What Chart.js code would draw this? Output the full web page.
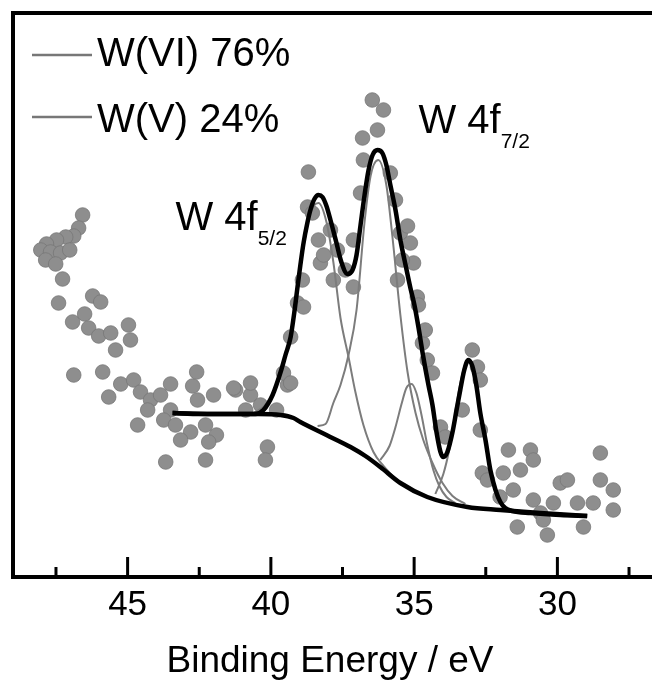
<!DOCTYPE html>
<html>
<head>
<meta charset="utf-8">
<script src="https://cdn.jsdelivr.net/npm/chart.js@4.4.0/dist/chart.umd.min.js"></script>
<style>
  html, body { margin: 0; padding: 0; background: #fff; overflow: hidden; }
  #wrap { position: absolute; left: 0; top: 0; width: 700px; height: 691px; }
</style>
</head>
<body>
<div id="wrap"><canvas id="xps" width="700" height="691"></canvas></div>
<script>
// W 4f XPS spectrum: [binding energy (eV), intensity (a.u.)]
const measured = [
  [46.57, 36.2], [46.71, 34.9], [46.88, 34.1], [47.16, 34.0], [47.48, 33.7], [47.83, 33.3],
  [48.03, 32.7], [47.69, 32.5], [47.34, 32.4], [47.02, 32.7], [47.86, 31.7], [47.51, 31.3],
  [47.27, 29.8], [47.41, 27.4], [46.22, 28.1], [45.94, 27.5], [46.92, 25.5], [46.5, 26.3],
  [46.36, 24.9], [46.01, 24.1], [45.59, 24.4], [44.97, 25.2], [44.9, 23.7], [45.42, 22.7],
  [46.88, 20.2], [45.87, 20.5], [45.66, 18.0], [45.24, 19.3], [44.79, 19.7], [44.55, 18.5],
  [44.2, 17.7], [43.85, 18.2], [44.3, 16.7], [43.5, 19.3], [43.5, 16.7], [43.74, 15.7],
  [43.33, 15.2], [42.8, 14.5], [43.15, 13.7], [44.65, 15.2], [43.67, 11.5], [42.73, 19.1],
  [42.59, 20.5], [42.56, 17.7], [42.0, 18.2], [42.28, 15.2], [41.9, 14.2], [42.17, 13.5],
  [42.28, 11.7], [41.23, 18.7], [40.71, 18.2], [40.88, 16.7], [40.36, 17.2], [40.12, 13.0],
  [40.19, 11.7], [39.8, 16.7], [39.42, 19.2], [40.71, 19.4], [41.3, 18.9], [39.56, 20.4],
  [39.31, 19.4], [39.31, 24.0], [39.07, 27.4], [38.9, 29.7], [38.72, 37.0], [38.69, 40.5],
  [38.55, 36.4], [38.34, 33.7], [38.27, 31.4], [38.16, 32.2], [37.82, 29.7], [37.68, 32.7],
  [37.12, 33.7], [37.12, 29.0], [36.87, 38.4], [36.77, 41.7], [36.8, 43.9], [36.28, 44.7],
  [36.46, 47.7], [36.07, 46.7], [35.83, 40.4], [35.48, 34.4], [35.23, 35.1], [35.13, 33.4],
  [35.02, 31.4], [35.58, 29.7], [34.89, 28.0], [34.85, 27.2], [34.71, 23.4], [34.54, 21.7],
  [34.36, 20.4], [34.08, 15.0], [33.91, 14.0], [33.32, 16.7], [32.97, 22.7], [32.79, 21.0],
  [32.69, 19.7], [32.69, 14.7], [32.62, 10.4], [32.44, 9.7], [32.0, 8.0], [31.89, 10.4],
  [31.71, 12.7], [31.29, 10.7], [30.94, 12.7], [30.84, 11.7], [31.54, 8.7], [31.4, 5.0],
  [30.84, 7.7], [30.59, 6.4], [30.49, 5.7], [30.35, 4.2], [30.14, 7.4], [29.9, 9.4],
  [29.65, 9.7], [29.3, 7.4], [29.09, 5.0], [28.75, 7.4], [28.5, 12.4], [28.5, 9.7],
  [28.05, 8.7], [28.05, 6.7], [38.86, 27.0], [37.4, 30.7], [37.92, 34.7], [35.65, 37.7],
  [35.41, 31.7], [34.61, 24.7]
];

const envelope = [
  [43.43, 16.4], [42.45, 16.3], [41.41, 16.3], [40.54, 16.3], [40.26, 16.7], [39.94, 18.2],
  [39.66, 20.5], [39.49, 22.2], [39.31, 24.0], [39.18, 26.5], [39.07, 29.0], [38.97, 31.2],
  [38.86, 33.4], [38.72, 35.5], [38.62, 36.7], [38.48, 37.8], [38.34, 38.2], [38.2, 38.0],
  [38.06, 37.1], [37.92, 35.7], [37.71, 33.4], [37.54, 31.5], [37.33, 30.3], [37.15, 30.7],
  [37.01, 32.2], [36.87, 35.2], [36.73, 38.2], [36.59, 40.7], [36.45, 42.2], [36.28, 42.7],
  [36.11, 42.4], [35.97, 41.2], [35.83, 39.2], [35.65, 36.7], [35.48, 33.7], [35.3, 31.2],
  [35.13, 28.9], [34.99, 27.2], [34.85, 25.0], [34.68, 22.0], [34.5, 19.2], [34.36, 17.2],
  [34.22, 14.5], [34.08, 12.5], [33.98, 12.0], [33.84, 12.5], [33.66, 14.5], [33.52, 16.7],
  [33.39, 18.7], [33.25, 20.7], [33.11, 21.7], [32.97, 21.1], [32.83, 19.2], [32.69, 16.4],
  [32.51, 13.7], [32.34, 10.7], [32.16, 8.7], [31.99, 7.5], [31.82, 6.9], [31.57, 6.6],
  [30.94, 6.4], [29.9, 6.2], [28.96, 6.1]
];

const background = [
  [43.43, 16.4], [41.76, 16.3], [40.47, 16.3], [39.66, 16.2], [39.21, 15.9], [38.97, 15.5],
  [38.06, 14.2], [37.22, 13.0], [36.7, 12.1], [36.18, 11.0], [35.48, 9.4], [34.54, 8.0],
  [33.14, 7.0], [31.99, 6.7], [30.6, 6.4], [28.96, 6.1]
];

// fitted components (drawn on top of the background)
const w6f52 = [
  [40.61, 16.4], [40.26, 17.0], [39.91, 18.4], [39.56, 21.3], [39.31, 24.2], [39.11, 28.2],
  [38.86, 33.0], [38.62, 36.4], [38.34, 37.4], [38.06, 35.5], [37.82, 31.5], [37.57, 25.9],
  [37.29, 22.0], [37.05, 18.5], [36.77, 15.2], [36.42, 12.5], [36.07, 11.1], [35.72, 10.0]
];
const w6f72 = [
  [38.37, 15.1], [38.09, 15.3], [37.82, 17.4], [37.57, 19.2], [37.29, 22.2], [37.01, 26.7],
  [36.73, 35.5], [36.52, 40.1], [36.25, 41.7], [35.97, 39.2], [35.76, 34.1], [35.48, 26.2],
  [35.23, 20.5], [34.95, 16.4], [34.68, 13.7], [34.36, 11.4], [34.01, 9.4], [33.66, 8.1],
  [33.21, 7.3]
];
const w5f52 = [
  [36.18, 11.7], [35.86, 13.1], [35.65, 15.0], [35.44, 17.3], [35.27, 18.9], [35.09, 19.3],
  [34.92, 18.4], [34.75, 16.3], [34.54, 13.2], [34.33, 10.7], [34.12, 9.1], [33.87, 8.0],
  [33.56, 7.4]
];
const w5f72 = [
  [34.26, 8.3], [33.98, 10.3], [33.77, 12.8], [33.59, 15.9], [33.42, 18.9], [33.25, 21.0],
  [33.11, 21.7], [32.97, 21.0], [32.79, 18.6], [32.62, 15.4], [32.44, 12.3], [32.23, 9.4],
  [31.96, 7.2], [31.64, 6.7]
];

const legendLabels = ['W(VI) 76%', 'W(V) 24%'];
const xTitle = 'Binding Energy / eV';
// peak labels anchored in data units: [eV, intensity, text, subscript]
const peakLabels = [
  [43.33, 34.7, 'W 4f', '5/2'],
  [34.85, 44.4, 'W 4f', '7/2']
];

const FONT = '"Liberation Sans", Arial, sans-serif';
const GREY = '#8e8e8e';
const canvas = document.getElementById('xps');

const toXY = arr => arr.map(([x, y]) => ({x, y}));

// frame, inward ticks, legend, peak labels and axis title
const frame = {
  id: 'frame',
  afterDatasetsDraw(chart) {
    const {ctx, chartArea: a, scales: {x, y}} = chart;
    ctx.save();
    ctx.strokeStyle = '#000';
    ctx.lineWidth = 4;
    ctx.beginPath();
    ctx.moveTo(a.left, a.bottom);
    ctx.lineTo(a.left, a.top);
    ctx.lineTo(a.right, a.top);
    ctx.lineTo(a.right, a.bottom);
    ctx.closePath();
    ctx.stroke();

    ctx.lineWidth = 3;
    x.ticks.forEach(t => {
      const px = x.getPixelForValue(t.value);
      const len = t.value % 5 === 0 ? 20 : 10;
      ctx.beginPath();
      ctx.moveTo(px, a.bottom);
      ctx.lineTo(px, a.bottom - len);
      ctx.stroke();
    });

    // legend
    ctx.fillStyle = '#000';
    ctx.textBaseline = 'alphabetic';
    ctx.font = '40px ' + FONT;
    legendLabels.forEach((txt, i) => {
      const ly = a.top + 42 + i * 62;
      ctx.strokeStyle = '#777';
      ctx.lineWidth = 2.5;
      ctx.beginPath();
      ctx.moveTo(a.left + 19, ly);
      ctx.lineTo(a.left + 79, ly);
      ctx.stroke();
      ctx.fillText(txt, a.left + 84, ly + 11 + i * 4);
    });

    peakLabels.forEach(([ev, val, main, sub]) => {
      const px = x.getPixelForValue(ev);
      const py = y.getPixelForValue(val);
      ctx.font = '40px ' + FONT;
      ctx.fillText(main, px, py);
      const w = ctx.measureText(main).width;
      ctx.font = '21px ' + FONT;
      ctx.fillText(sub, px + w, py + 15);
    });

    // x axis title
    ctx.font = '37px ' + FONT;
    ctx.textAlign = 'center';
    ctx.fillText(xTitle, 330, a.bottom + 95);
    ctx.restore();
  }
};

const thin = (label, data) => ({
  label, type: 'line', data: toXY(data), borderColor: '#7c7c7c', borderWidth: 2,
  pointRadius: 0, fill: false, cubicInterpolationMode: 'monotone', order: 3
});

new Chart(canvas, {
  type: 'scatter',
  data: {
    datasets: [
      { label: 'Envelope', type: 'line', data: toXY(envelope), borderColor: '#000', borderWidth: 4.5,
        pointRadius: 0, fill: false, cubicInterpolationMode: 'monotone', order: 0 },
      { label: 'Background', type: 'line', data: toXY(background), borderColor: '#000', borderWidth: 4.5,
        pointRadius: 0, fill: false, cubicInterpolationMode: 'monotone', order: 1 },
      thin('W(VI) 4f5/2', w6f52),
      thin('W(VI) 4f7/2', w6f72),
      thin('W(V) 4f5/2', w5f52),
      thin('W(V) 4f7/2', w5f72),
      { label: 'Measured', data: toXY(measured), pointRadius: 7.3, pointBackgroundColor: GREY,
        pointBorderColor: '#777', pointBorderWidth: 0.8, order: 9 }
    ]
  },
  options: {
    responsive: false,
    animation: false,
    layout: { padding: { left: 13, top: 13, right: 28, bottom: 58 } },
    plugins: { legend: { display: false }, tooltip: { enabled: false } },
    scales: {
      x: {
        type: 'linear', min: 26, max: 49, reverse: true,
        grid: { display: false, drawTicks: false },
        border: { display: false },
        ticks: {
          stepSize: 2.5, includeBounds: false, autoSkip: false, maxRotation: 0,
          padding: 7, color: '#000', font: { family: FONT, size: 35 },
          callback: v => (v % 5 === 0 ? String(v) : '')
        }
      },
      y: { display: false, min: 0, max: 56.4 }
    }
  },
  plugins: [frame]
});
</script>
</body>
</html>
